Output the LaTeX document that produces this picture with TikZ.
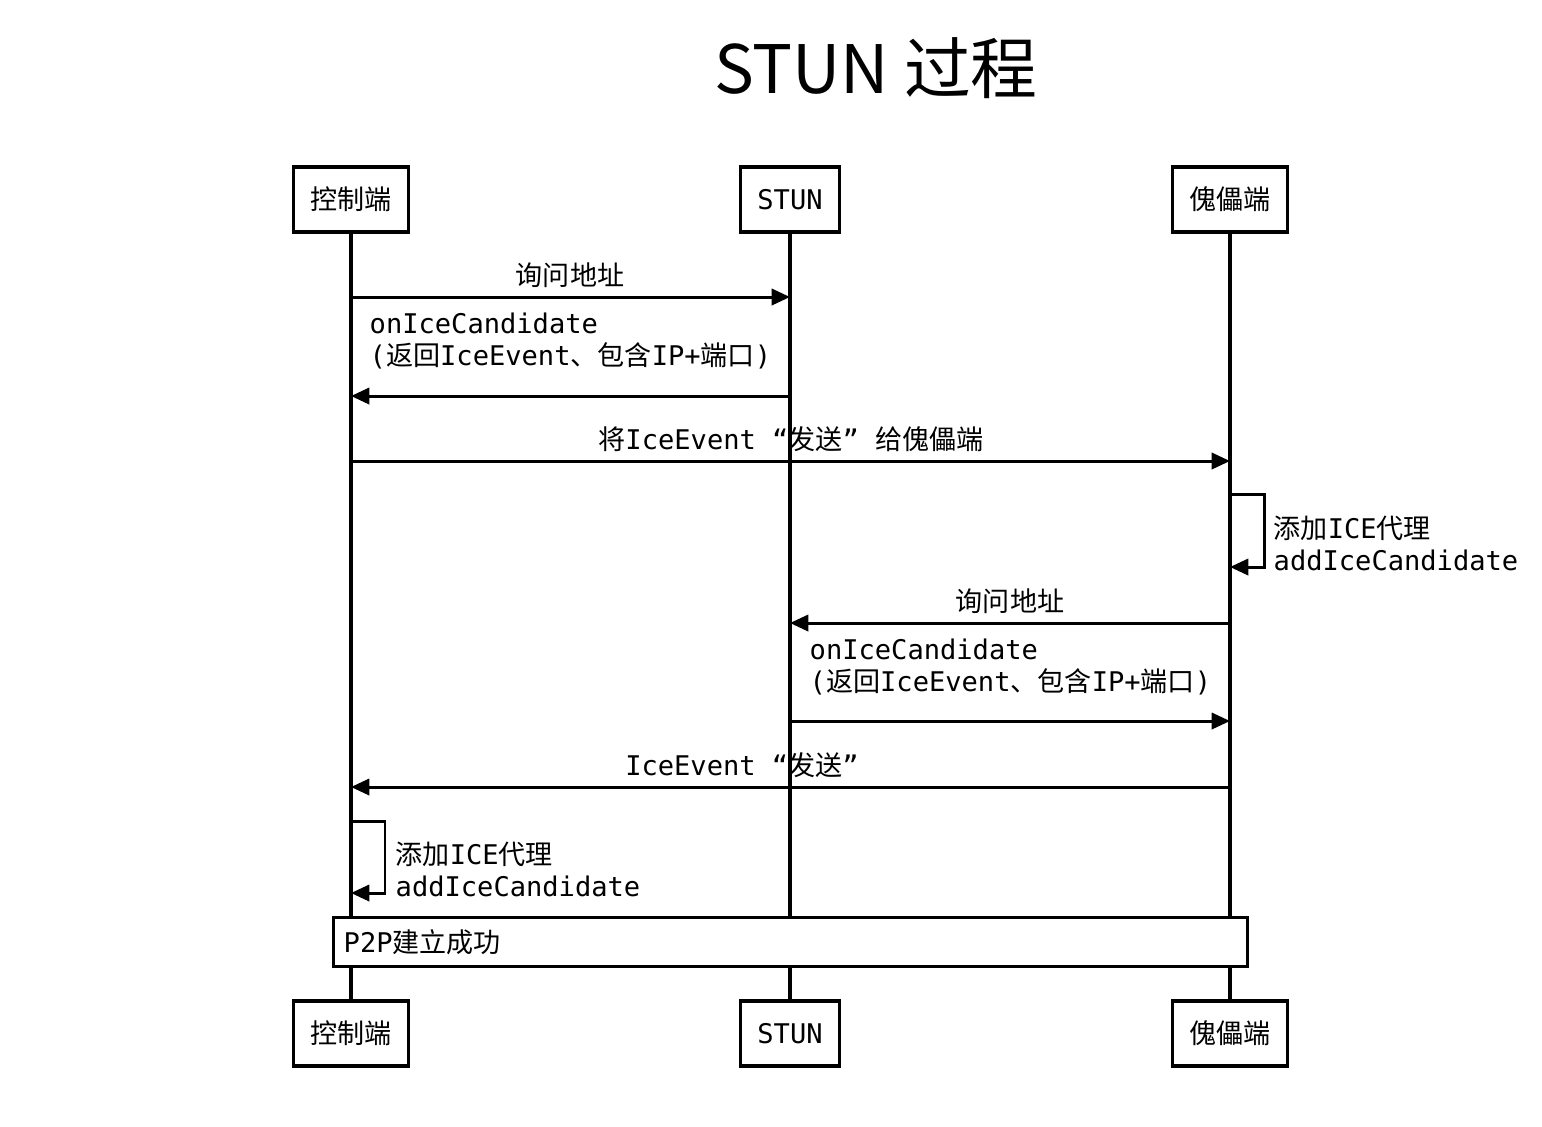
\documentclass[tikz,border=0pt]{standalone}
\usepackage{fontspec}
\setmonofont{DejaVu Sans Mono}
\newfontfamily\cjk{Noto Sans CJK SC}
\usetikzlibrary{arrows.meta}
\newcommand{\zh}[1]{{\cjk #1}}
\tikzset{
  actor/.style={draw,line width=1pt,fill=white,minimum height=0.65cm,inner xsep=0.17cm,font=\ttfamily\fontsize{7.7}{9.1}\selectfont},
  lbl/.style={font=\ttfamily\fontsize{7.7}{9.1}\selectfont,inner sep=0pt,align=left},
  msg/.style={-{Triangle[length=5.2pt,width=4.6pt]},line width=0.85pt},
  life/.style={line width=1pt}
}
\begin{document}
\begin{tikzpicture}[x=0.01cm,y=-0.01cm]
\useasboundingbox (0,0) rectangle (1542,1126);

% Title
\node[font=\cjk\fontsize{19}{23}\selectfont] (title) at (876,68) {STUN 过程};

% Participants
\node[actor] (ctrlTop) at (351,199.5) {\zh{控制端}};
\node[actor] (stunTop) at (790,199.5) {STUN};
\node[actor] (pupTop) at (1230,199.5) {\zh{傀儡端}};
\node[actor] (ctrlBot) at (351,1033.5) {\zh{控制端}};
\node[actor] (stunBot) at (790,1033.5) {STUN};
\node[actor] (pupBot) at (1230,1033.5) {\zh{傀儡端}};

% Lifelines
\draw[life] (ctrlTop) -- (ctrlBot);
\draw[life] (stunTop) -- (stunBot);
\draw[life] (pupTop) -- (pupBot);

% Points on the lifelines
\coordinate (c1) at (351,297);  \coordinate (s1) at (790,297);
\coordinate (c2) at (351,396);  \coordinate (s2) at (790,396);
\coordinate (c3) at (351,461);  \coordinate (p3) at (1230,461);
\coordinate (p4a) at (1230,494); \coordinate (p4b) at (1230,567);
\coordinate (s5) at (790,623);  \coordinate (p5) at (1230,623);
\coordinate (s6) at (790,721);  \coordinate (p6) at (1230,721);
\coordinate (c7) at (351,787);  \coordinate (p7) at (1230,787);
\coordinate (c8a) at (351,821); \coordinate (c8b) at (351,893);

% Messages
\draw[msg] (c1) -- (s1);
\node[lbl] (ask1) at (570,275) {\zh{询问地址}};

\draw[msg] (s2) -- (c2);
\node[lbl,anchor=west] (ret1) at (369,341) {onIceCandidate\\(\zh{返回}IceEvent\zh{、包含}IP+\zh{端口})};

\draw[msg] (c3) -- (p3);
\node[lbl] (send1) at (791,439) {\zh{将}IceEvent “\zh{发送}” \zh{给傀儡端}};

\draw[msg] (p4a) -- (1264,494) -- (1264,567) -- (p4b);
\node[lbl,anchor=west] (add1) at (1273,543) {\zh{添加}ICE\zh{代理}\\addIceCandidate};

\draw[msg] (p5) -- (s5);
\node[lbl] (ask2) at (1010,601) {\zh{询问地址}};

\draw[msg] (s6) -- (p6);
\node[lbl,anchor=west] (ret2) at (809,667) {onIceCandidate\\(\zh{返回}IceEvent\zh{、包含}IP+\zh{端口})};

\draw[msg] (p7) -- (c7);
\node[lbl] (send2) at (742,765) {IceEvent “\zh{发送}”};

\draw[msg] (c8a) -- (385,821) -- (385,893) -- (c8b);
\node[lbl,anchor=west] (add2) at (395,869) {\zh{添加}ICE\zh{代理}\\addIceCandidate};

% Note
\node[draw,line width=1pt,fill=white,minimum width=9.13cm,minimum height=0.48cm,
  text width=8.93cm,inner xsep=0.1cm,align=left,font=\ttfamily\fontsize{7.7}{9.1}\selectfont]
  (done) at (790.5,942) {P2P\zh{建立成功}};
\end{tikzpicture}
\end{document}
